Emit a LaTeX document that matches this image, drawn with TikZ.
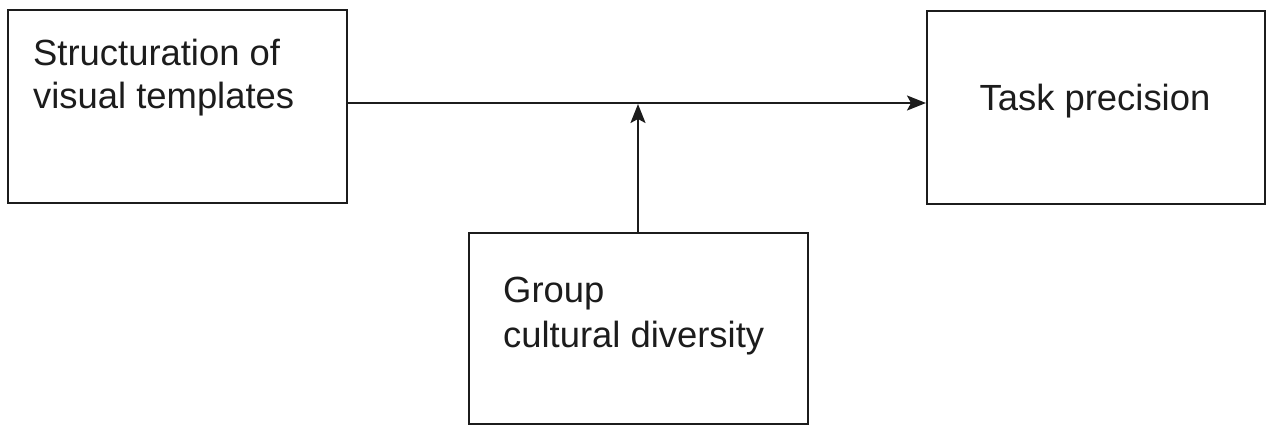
\documentclass[tikz,border=0pt]{standalone}
\usepackage{fontspec}
\setmainfont{Liberation Sans}
\usetikzlibrary{arrows.meta}
\definecolor{ink}{HTML}{1C1C1C}
\begin{document}
\begin{tikzpicture}[x=1pt,y=-1pt,
  box/.style={draw=ink, line width=2pt, inner sep=0pt, anchor=north west},
  label/.style={text=ink, inner sep=0pt, font=\fontsize{36.4}{43}\selectfont},
  link/.style={draw=ink, line width=2pt, -{Stealth[length=19pt,width=15pt,inset=4pt]}}]
  \useasboundingbox (0,0) rectangle (1268,424);
  % boxes
  \node[box, minimum width=339pt, minimum height=193pt] (src) at (7,9) {};
  \node[box, minimum width=338pt, minimum height=193pt] (dst) at (926,10) {};
  \node[box, minimum width=339pt, minimum height=191pt] (mod) at (468,232) {};
  % texts
  \node[label, anchor=base west] (srcA) at (33,65) {Structuration of};
  \node[label, anchor=base west] (srcB) at (33,108) {visual templates};
  \node[label, anchor=base] (dstA) at (1095,110) {Task precision};
  \node[label, anchor=base west] (modA) at (503,302) {Group};
  \node[label, anchor=base west] (modB) at (503,347) {cultural diversity};
  % connectors
  \draw[link] (src.east |- 0,103) -- (dst.west |- 0,103);
  \coordinate (hit) at (638,104);
  \draw[link] (mod.north -| hit) -- (hit);
\end{tikzpicture}
\end{document}
